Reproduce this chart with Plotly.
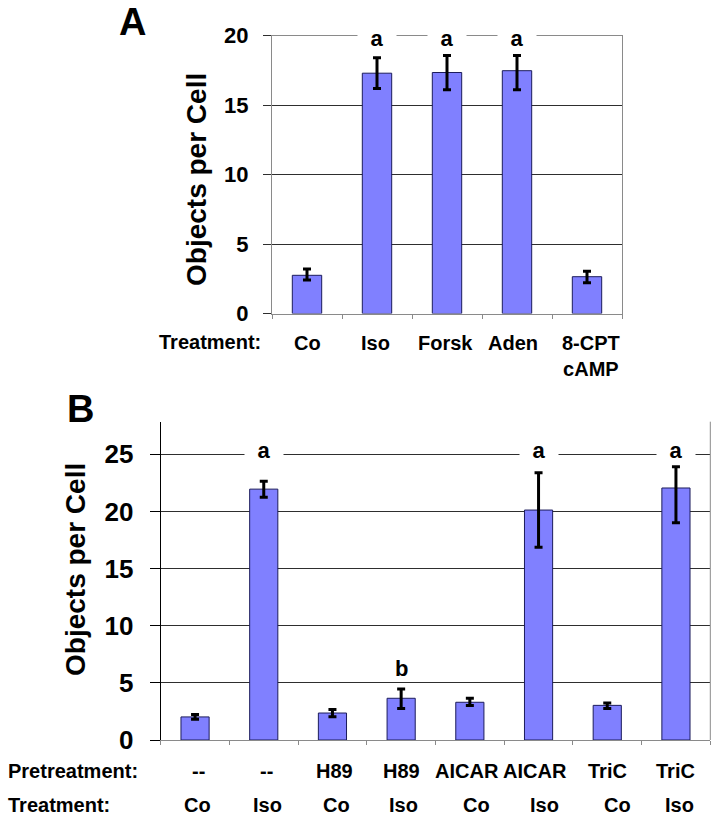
import plotly.graph_objects as go

W, H = 717, 817

# ---------------- Panel A data ----------------
a_categories = ["Co", "Iso", "Forsk", "Aden", "8-CPT<br>cAMP"]
a_values = [2.75, 17.3, 17.35, 17.48, 2.65]
a_err_plus = [0.45, 1.12, 1.23, 1.1, 0.4]
a_err_minus = [0.33, 1.1, 1.25, 1.37, 0.44]
a_sig = ["", "a", "a", "a", ""]
a_yticks = [0, 5, 10, 15, 20]

# ---------------- Panel B data ----------------
b_pretreatment = ["--", "--", "H89", "H89", "AICAR", "AICAR", "TriC", "TriC"]
b_treatment = ["Co", "Iso", "Co", "Iso", "Co", "Iso", "Co", "Iso"]
b_values = [2.02, 21.95, 2.36, 3.65, 3.3, 20.12, 3.03, 22.05]
b_err_plus = [0.22, 0.7, 0.3, 0.82, 0.35, 3.27, 0.2, 1.86]
b_err_minus = [0.2, 0.7, 0.33, 0.9, 0.28, 3.26, 0.28, 3.04]
b_sig = ["", "a", "", "b", "", "a", "", "a"]
b_yticks = [0, 5, 10, 15, 20, 25]

b_keys = [f"{p} {t}" for p, t in zip(b_pretreatment, b_treatment)]

# label nudges (pixels) to mimic the original hand-placed text rows
a_label_shift = [0, -2, -2, -4, 4]
b_pre_shift = [3, 3, 2, 0, -3, -4, 0, 0]
b_trt_shift = [2, 4, 4, 2, 7, 6, 10, 4]

FONT = "Liberation Sans, Arial, Helvetica, sans-serif"
BAR = "#8080FF"
BAR_LINE = "#1c1c5c"
GRID = "#2e2e2e"
GRAY = "#8a8a8a"


def px(x):
    return x / W


def py(y):
    return 1 - y / H


fig = go.Figure()

fig.add_trace(go.Bar(
    x=a_categories, y=a_values, xaxis="x", yaxis="y",
    marker=dict(color=BAR, line=dict(color=BAR_LINE, width=1)),
    width=0.42,
    error_y=dict(type="data", symmetric=False, array=a_err_plus, arrayminus=a_err_minus,
                 color="black", thickness=3, width=4),
    showlegend=False,
))

fig.add_trace(go.Bar(
    x=b_keys, y=b_values, xaxis="x2", yaxis="y2",
    marker=dict(color=BAR, line=dict(color=BAR_LINE, width=1)),
    width=0.41,
    error_y=dict(type="data", symmetric=False, array=b_err_plus, arrayminus=b_err_minus,
                 color="black", thickness=3, width=4),
    showlegend=False,
))

annotations = []
bold = dict(family=FONT, color="black", weight="bold")

# Panel letters
annotations.append(dict(text="A", x=px(132), y=py(22), xref="paper", yref="paper",
                        showarrow=False, xanchor="center", yanchor="middle",
                        font=dict(size=38, **bold)))
annotations.append(dict(text="B", x=px(80), y=py(409), xref="paper", yref="paper",
                        showarrow=False, xanchor="center", yanchor="middle",
                        font=dict(size=38, **bold)))

# Y axis titles
annotations.append(dict(text="Objects per Cell", textangle=-90, x=px(196), y=py(180),
                        xref="paper", yref="paper", showarrow=False,
                        xanchor="center", yanchor="middle", font=dict(size=28, **bold)))
annotations.append(dict(text="Objects per Cell", textangle=-90, x=px(75), y=py(570),
                        xref="paper", yref="paper", showarrow=False,
                        xanchor="center", yanchor="middle", font=dict(size=28, **bold)))

# Panel A category labels
annotations.append(dict(text="Treatment:", x=px(157), y=py(342), xref="paper", yref="paper",
                        showarrow=False, xanchor="left", yanchor="middle",
                        font=dict(size=20, **bold)))
for c, sh in zip(a_categories, a_label_shift):
    annotations.append(dict(text=c, x=c, xref="x", y=py(330), yref="paper",
                            showarrow=False, xanchor="center", yanchor="top", xshift=sh,
                            font=dict(size=20, **bold)))

# Panel B category labels
annotations.append(dict(text="Pretreatment:", x=px(6), y=py(771), xref="paper", yref="paper",
                        showarrow=False, xanchor="left", yanchor="middle",
                        font=dict(size=20, **bold)))
annotations.append(dict(text="Treatment:", x=px(6), y=py(805), xref="paper", yref="paper",
                        showarrow=False, xanchor="left", yanchor="middle",
                        font=dict(size=20, **bold)))
for k, p, t, s1, s2 in zip(b_keys, b_pretreatment, b_treatment, b_pre_shift, b_trt_shift):
    annotations.append(dict(text=p, x=k, xref="x2", y=py(771), yref="paper",
                            showarrow=False, xanchor="center", yanchor="middle", xshift=s1,
                            font=dict(size=20, **bold)))
    annotations.append(dict(text=t, x=k, xref="x2", y=py(805), yref="paper",
                            showarrow=False, xanchor="center", yanchor="middle", xshift=s2,
                            font=dict(size=20, **bold)))

# Significance letters
for c, s in zip(a_categories, a_sig):
    if s:
        annotations.append(dict(text=s, x=c, xref="x", y=a_yticks[-1], yref="y",
                                showarrow=False, xanchor="center", yanchor="middle",
                                yshift=-2, bgcolor="white", width=32, height=20, borderpad=3,
                                font=dict(size=22, **bold)))
for k, s, v, e in zip(b_keys, b_sig, b_values, b_err_plus):
    if s == "a":
        annotations.append(dict(text=s, x=k, xref="x2", y=b_yticks[-1], yref="y2",
                                showarrow=False, xanchor="center", yanchor="middle",
                                yshift=4, bgcolor="white", width=32, height=20, borderpad=3,
                                font=dict(size=22, **bold)))
    elif s:
        annotations.append(dict(text=s, x=k, xref="x2", y=v + e, yref="y2",
                                showarrow=False, xanchor="center", yanchor="bottom",
                                yshift=6, font=dict(size=22, **bold)))

shapes = [
    # right border of panel B (gray)
    dict(type="line", xref="x2 domain", yref="y2 domain", x0=1, x1=1, y0=0, y1=1,
         line=dict(color=GRAY, width=1)),
]

fig.update_layout(
    template="none",
    width=W, height=H,
    margin=dict(l=0, r=0, t=0, b=0, pad=0, autoexpand=False),
    paper_bgcolor="white", plot_bgcolor="white",
    font=dict(family=FONT, color="black"),
    annotations=annotations,
    shapes=shapes,
    showlegend=False,
    xaxis=dict(domain=[px(272), px(622)], type="category", categoryorder="array",
               categoryarray=a_categories, showticklabels=False, ticks="outside",
               tickson="boundaries", ticklen=4, tickcolor=GRAY, showline=True,
               linecolor=GRAY, linewidth=1, mirror=True, showgrid=False,
               automargin=False, anchor="y", fixedrange=True),
    yaxis=dict(domain=[py(313.5), py(35.7)], range=[0, 20], tickvals=a_yticks,
               ticks="outside", ticklen=8, tickcolor=GRID, showline=True, linecolor=GRAY,
               linewidth=1, mirror=True, showgrid=True, gridcolor=GRID, gridwidth=1,
               zeroline=False, ticklabelstandoff=10, automargin=False,
               tickfont=dict(size=22, **bold), anchor="x"),
    xaxis2=dict(domain=[px(160.7), px(710.3)], type="category", categoryorder="array",
                categoryarray=b_keys, showticklabels=False, ticks="outside",
                tickson="boundaries", ticklen=4, tickcolor=GRAY, showline=True,
                linecolor=GRAY, linewidth=1, showgrid=False, automargin=False,
                anchor="y2"),
    yaxis2=dict(domain=[py(740), py(421.7)], range=[0, 27.85], tickvals=b_yticks,
                ticks="outside", ticklen=10, tickcolor="black", showline=True,
                linecolor="black", linewidth=1, showgrid=True, gridcolor=GRID, gridwidth=1,
                zeroline=False, ticklabelstandoff=11, automargin=False,
                tickfont=dict(size=26, **bold), anchor="x2"),
)

fig.write_html(
    "out.html",
    config={"displayModeBar": False},
    post_script="document.body.style.margin='0px';document.body.style.overflow='hidden';",
)
